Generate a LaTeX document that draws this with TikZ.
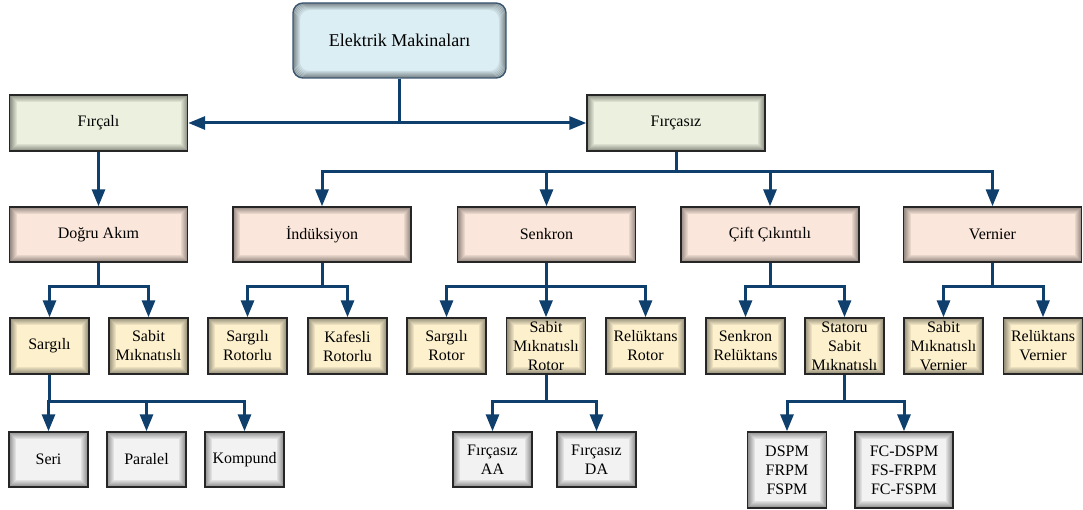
\documentclass[tikz,border=0pt]{standalone}
\usepackage{fontspec}
\setmainfont{Liberation Serif}
\usetikzlibrary{arrows.meta,calc}
\definecolor{linec}{HTML}{0F3F6C}
\definecolor{bordc}{HTML}{262626}
\definecolor{topfill}{HTML}{DBEEF4}
\definecolor{topdraw}{HTML}{3A5670}
\definecolor{greenf}{HTML}{EBF1DE}
\definecolor{peachf}{HTML}{FAE6DA}
\definecolor{yellowf}{HTML}{FDF1CD}
\definecolor{greyf}{HTML}{F2F2F2}
\tikzset{
  innerglow/.style={path picture={
    \foreach \k in {0,...,6}{
      \pgfmathsetmacro\op{0.40-0.055*\k}
      \draw[black,opacity=\op,line width=1pt,rounded corners=#1]
        ([xshift=\k pt+0.5pt,yshift=\k pt+0.5pt]path picture bounding box.south west)
        rectangle
        ([xshift=-\k pt-0.5pt,yshift=-\k pt-0.5pt]path picture bounding box.north east);
    }}},
  innerglow/.default=0pt,
  box/.style={draw=bordc,line width=1.4pt,inner sep=0pt,align=center,
    font=\fontsize{16}{19}\selectfont,innerglow},
  lvlone/.style={box,fill=greenf,minimum width=178pt,minimum height=56pt},
  lvltwo/.style={box,fill=peachf,minimum width=178pt,minimum height=55pt},
  lvlthree/.style={box,fill=yellowf,minimum width=79pt,minimum height=56pt},
  lvlfour/.style={box,fill=greyf,minimum width=79pt,minimum height=55pt},
  conn/.style={draw=linec,line width=3pt},
  arr/.style={conn,-{Triangle[length=17pt,width=13pt]}},
}
\begin{document}
\begin{tikzpicture}[x=1pt,y=-1pt]
\useasboundingbox (0,0) rectangle (1083,510);

% root
\node[draw=topdraw,fill=topfill,line width=1.4pt,rounded corners=10pt,
  innerglow=10pt,minimum width=213pt,minimum height=75pt,
  font=\fontsize{18}{21}\selectfont] (root) at (399.5,40.5) {Elektrik Makinaları};

% first level
\node[lvlone] (fircali) at (98.5,123) {Fırçalı};
\node[lvlone] (fircasiz) at (676,123) {Fırçasız};

% second level
\node[lvltwo] (dogru) at (98.5,234.5) {Doğru Akım};
\node[lvltwo] (induk) at (322,234.5) {İndüksiyon};
\node[lvltwo] (senk) at (546.5,234.5) {Senkron};
\node[lvltwo] (cift) at (770,234.5) {Çift Çıkıntılı};
\node[lvltwo] (vern) at (992.5,234.5) {Vernier};

% third level
\node[lvlthree] (sargili) at (49.5,346) {Sargılı};
\node[lvlthree] (sabitda) at (148.5,346) {Sabit\\Mıknatıslı};
\node[lvlthree] (sarrotorlu) at (247.5,346) {Sargılı\\Rotorlu};
\node[lvlthree] (kafesli) at (347.5,346) {Kafesli\\Rotorlu};
\node[lvlthree] (sarrotor) at (446.5,346) {Sargılı\\Rotor};
\node[lvlthree] (smrotor) at (546,346) {Sabit\\Mıknatıslı\\Rotor};
\node[lvlthree] (relrotor) at (645.5,346) {Relüktans\\Rotor};
\node[lvlthree] (senkrel) at (745.5,346) {Senkron\\Relüktans};
\node[lvlthree] (statoru) at (844.5,346) {Statoru\\Sabit\\Mıknatıslı};
\node[lvlthree] (smvern) at (943.5,346) {Sabit\\Mıknatıslı\\Vernier};
\node[lvlthree] (relvern) at (1043,346) {Relüktans\\Vernier};

% fourth level
\node[lvlfour] (seri) at (48.5,459.5) {Seri};
\node[lvlfour] (paralel) at (146.5,459.5) {Paralel};
\node[lvlfour] (kompund) at (244.5,459.5) {Kompund};
\node[lvlfour] (fAA) at (492.5,459.5) {Fırçasız\\AA};
\node[lvlfour] (fDA) at (596.5,459.5) {Fırçasız\\DA};
\node[lvlfour,minimum height=76pt] (dspm) at (787,470) {DSPM\\FRPM\\FSPM};
\node[lvlfour,minimum width=98pt,minimum height=76pt] (fcdspm) at (904,470) {FC-DSPM\\FS-FRPM\\FC-FSPM};

% connectors
\draw[arr] (root.south) |- (fircali.east);
\draw[arr] (root.south) |- (fircasiz.west);
\draw[arr] (fircali.south) -- (dogru.north);

\coordinate (bF) at ($(fircasiz.south)+(0,20)$);
\foreach \c in {induk,senk,cift,vern}
  \draw[arr] (fircasiz.south) -- (bF) -| (\c.north);

\coordinate (bD) at ($(dogru.south)+(0,24)$);
\foreach \c in {sargili,sabitda}
  \draw[arr] (dogru.south) -- (bD) -| (\c.north);

\coordinate (bI) at ($(induk.south)+(0,24)$);
\foreach \c in {sarrotorlu,kafesli}
  \draw[arr] (induk.south) -- (bI) -| (\c.north);

\coordinate (bS) at ($(senk.south)+(0,24)$);
\foreach \c in {sarrotor,smrotor,relrotor}
  \draw[arr] (senk.south) -- (bS) -| (\c.north);

\coordinate (bC) at ($(cift.south)+(0,24)$);
\foreach \c in {senkrel,statoru}
  \draw[arr] (cift.south) -- (bC) -| (\c.north);

\coordinate (bV) at ($(vern.south)+(0,24)$);
\foreach \c in {smvern,relvern}
  \draw[arr] (vern.south) -- (bV) -| (\c.north);

\coordinate (bSa) at ($(sargili.south)+(0,27)$);
\foreach \c in {seri,paralel,kompund}
  \draw[arr] (sargili.south) -- (bSa) -| (\c.north);

\coordinate (bSm) at ($(smrotor.south)+(0,27)$);
\foreach \c in {fAA,fDA}
  \draw[arr] (smrotor.south) -- (bSm) -| (\c.north);

\coordinate (bSt) at ($(statoru.south)+(0,27)$);
\foreach \c in {dspm,fcdspm}
  \draw[arr] (statoru.south) -- (bSt) -| (\c.north);
\end{tikzpicture}
\end{document}
